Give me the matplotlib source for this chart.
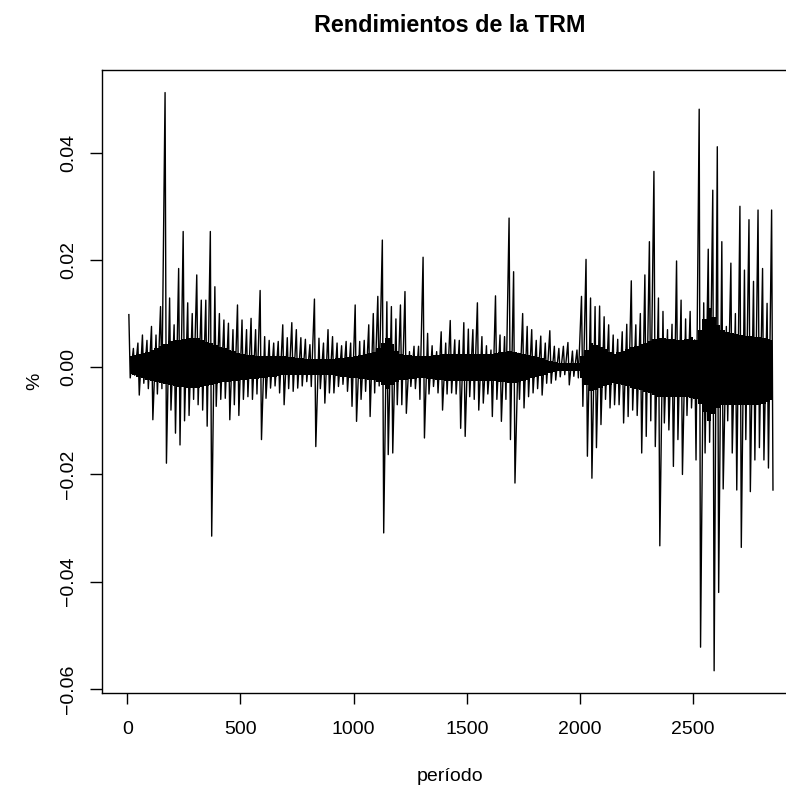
import numpy as np
import matplotlib
matplotlib.use("Agg")
import matplotlib.pyplot as plt

plt.rcParams["font.family"] = ["Liberation Sans", "DejaVu Sans"]

# rendimientos diarios de la TRM, leidos por tramos de 20 periodos:
# maximo y minimo de cada tramo, en milesimas
tramo = np.arange(0, 2860, 20)
alto = [9.8, 3.5, 4.5, 6.0, 5.0, 7.6, 6.0, 11.3, 51.2, 12.9,
        7.9, 18.4, 25.3, 12.0, 10.0, 17.2, 12.5, 12.5, 25.3, 15.0,
        10.0, 8.8, 8.2, 7.0, 11.6, 8.8, 7.0, 9.1, 7.0, 14.3,
        5.7, 5.0, 4.5, 4.8, 7.9, 5.5, 8.3, 7.0, 5.5, 5.2,
        4.2, 12.7, 5.4, 4.5, 7.0, 5.7, 4.5, 4.0, 4.8, 4.5,
        11.6, 4.8, 5.0, 7.9, 10.0, 13.2, 23.7, 12.2, 11.3, 9.0,
        11.6, 14.1, 2.9, 3.9, 3.9, 20.5, 6.3, 4.0, 2.9, 6.6,
        4.5, 8.7, 5.1, 5.0, 8.3, 7.1, 7.0, 12.0, 5.7, 4.0,
        3.2, 13.3, 6.0, 5.7, 27.8, 17.8, 2.6, 10.0, 7.6, 7.0,
        5.0, 5.8, 4.5, 6.8, 3.9, 3.5, 3.9, 4.6, 3.0, 3.2,
        13.2, 20.1, 12.9, 11.3, 11.4, 9.4, 7.9, 6.0, 5.2, 6.6,
        8.0, 16.1, 7.9, 10.0, 17.2, 23.4, 36.5, 12.9, 10.4, 7.0,
        8.0, 19.8, 12.5, 9.0, 10.4, 5.1, 48.1, 12.0, 22.0, 33.0,
        41.1, 23.4, 7.6, 19.4, 10.0, 30.0, 18.1, 27.5, 16.0, 29.3,
        18.4, 11.9, 29.3]
bajo = [-2.0, -1.5, -5.2, -3.0, -4.0, -9.8, -5.0, -4.0, -17.9, -8.0,
        -12.3, -14.5, -10.0, -9.0, -6.0, -7.0, -8.0, -11.0, -31.5, -7.3,
        -6.0, -5.8, -9.8, -7.0, -9.0, -6.0, -5.5, -6.0, -5.0, -13.5,
        -5.8, -3.9, -3.5, -4.8, -7.0, -4.0, -4.5, -3.9, -3.5, -2.7,
        -3.6, -14.8, -4.0, -6.7, -4.8, -4.8, -3.6, -3.2, -4.5, -7.3,
        -10.1, -6.0, -4.5, -9.2, -4.8, -3.5, -30.9, -16.3, -16.0, -7.0,
        -7.0, -8.6, -3.6, -4.0, -6.0, -13.2, -5.0, -3.6, -4.8, -8.0,
        -5.0, -4.8, -5.0, -11.4, -12.9, -5.5, -6.0, -8.0, -6.7, -5.0,
        -9.2, -6.0, -10.1, -6.0, -13.5, -21.6, -6.0, -7.6, -5.5, -4.8,
        -4.0, -5.2, -3.0, -3.0, -2.4, -1.8, -1.4, -3.3, -1.7, -2.0,
        -7.3, -16.6, -20.7, -15.0, -10.7, -6.0, -7.6, -7.0, -7.0, -10.4,
        -9.2, -8.0, -9.0, -16.0, -12.9, -10.0, -14.8, -33.3, -10.4, -11.7,
        -18.5, -13.5, -20.0, -9.0, -7.6, -17.3, -52.2, -16.0, -14.0, -56.6,
        -42.0, -22.7, -10.0, -16.0, -22.9, -33.6, -13.5, -23.2, -17.3, -15.0,
        -17.3, -18.8, -22.9]
assert len(alto) == len(tramo) == len(bajo)

# franja central donde la serie se ve negra y compacta (milesimas)
nucleo_x = [1, 100, 200, 300, 400, 500, 600, 700, 800, 900, 1000, 1100, 1150,
            1200, 1300, 1400, 1500, 1600, 1700, 1800, 1900, 1990, 2050, 2150,
            2250, 2350, 2450, 2520, 2570, 2620, 2700, 2800, 2855]
nucleo_hi = [2.0, 3.0, 5, 5.5, 4, 2.5, 2, 2, 1.5, 1.5, 2, 3, 5.5,
             2.5, 2, 2.5, 2.5, 2.5, 3, 2, 0.8, 0.8, 4.5, 2.5,
             4, 5.5, 5, 6, 11, 7, 6, 5.5, 5]
nucleo_lo = [-1.2, -2.5, -3.5, -4, -3, -2.5, -2, -1.5, -1.5, -1.5, -2, -2.5, -4,
             -2.5, -2, -2.5, -2.5, -2.5, -3, -2, -0.8, -0.8, -4.5, -3,
             -4, -5.5, -5.5, -6, -10, -7, -7, -7, -6]

xt = [0, 500, 1000, 1500, 2000, 2500]
yt = [-0.06, -0.04, -0.02, 0.00, 0.02, 0.04]
ytl = ["\u22120.06", "\u22120.04", "\u22120.02", "0.00", "0.02", "0.04"]

# serie: maximo y minimo de cada tramo, casi en vertical
per = np.column_stack([tramo + 7, tramo + 13]).ravel()
ret = np.column_stack([alto, bajo]).ravel() / 1000.0

# franja central recortada por el maximo/minimo de cada tramo
c_hi = np.minimum(np.interp(tramo + 10, nucleo_x, nucleo_hi), alto) / 1000.0
c_lo = np.maximum(np.interp(tramo + 10, nucleo_x, nucleo_lo), bajo) / 1000.0

W, H = 786, 788
fig = plt.figure(figsize=(W / 100, H / 100), dpi=100)
ax = fig.add_axes([101.7 / W, (H - 693.3) / H, 697.3 / W, 623.8 / H])
ax.fill_between(tramo + 10, c_lo, c_hi, step="mid", color="black", lw=0)
ax.plot(per, ret, color="black", lw=1.0)

ax.set_xlim(-113, 2968)
ax.set_ylim(-0.0608, 0.0555)
ax.set_xticks(xt)
ax.set_xticklabels([str(v) for v in xt])
ax.set_yticks(yt)
ax.set_yticklabels(ytl, rotation=90, va="center")
ax.tick_params(axis="x", length=8.2, width=1.0, pad=12, labelsize=14)
ax.tick_params(axis="y", length=8.6, width=1.0, pad=9, labelsize=14)
for s in ax.spines.values():
    s.set_linewidth(1.0)

fig.text(450 / W, 1 - 31.7 / H, "Rendimientos de la TRM", ha="center",
         va="baseline", fontsize=16.8, fontweight="bold")
fig.text(450 / W, 1 - 781 / H, "período", ha="center", va="baseline", fontsize=14)
fig.text(35 / W, 1 - 381.5 / H, "%", ha="center", va="center", rotation=90,
         fontsize=14)

fig.savefig("out.png", dpi=100)
